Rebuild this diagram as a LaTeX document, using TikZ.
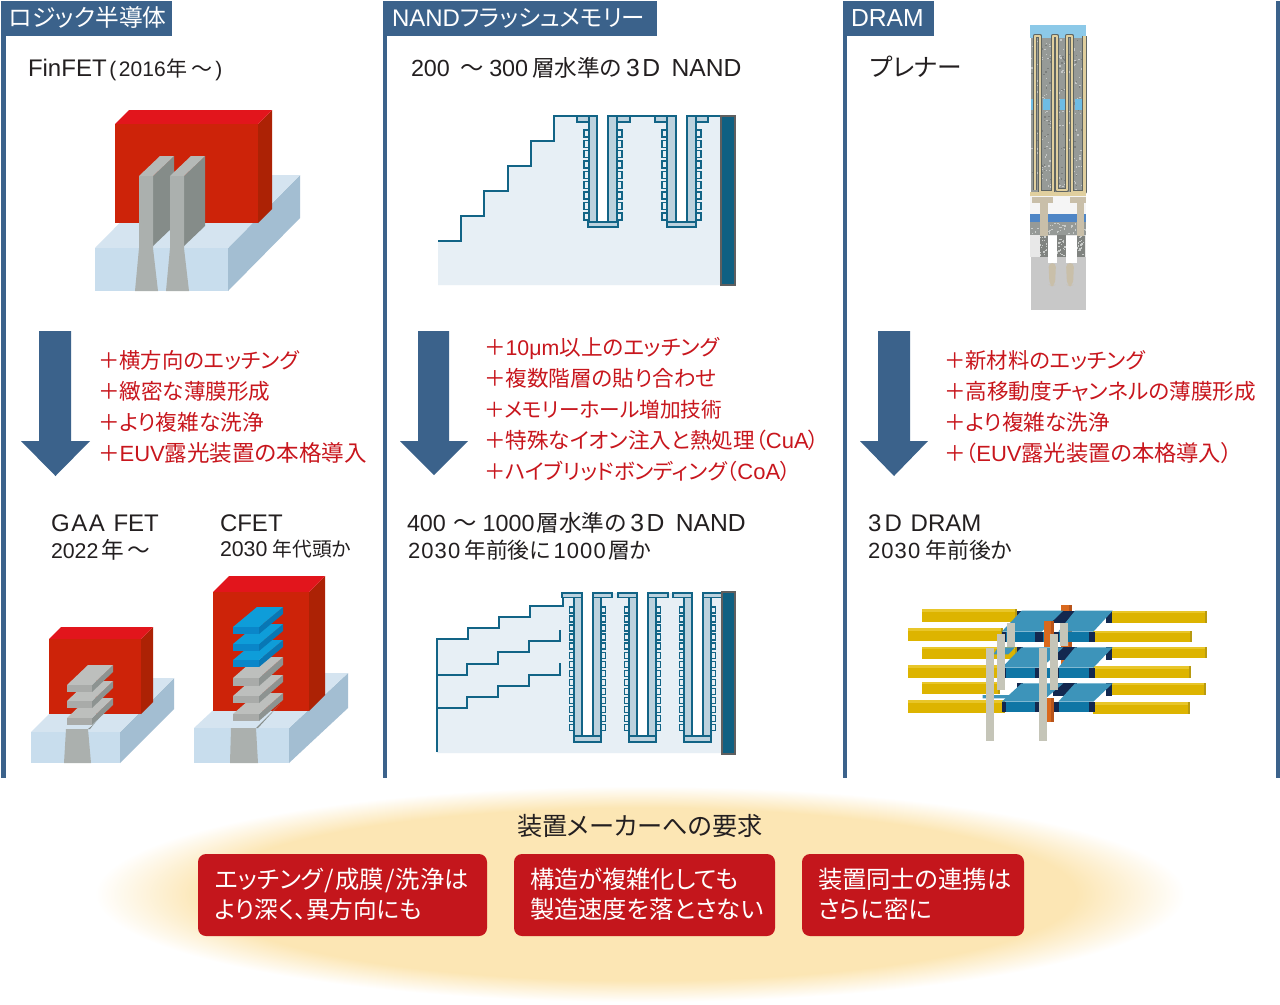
\documentclass[tikz,border=0pt]{standalone}
\usepackage{fontspec}
\setmainfont{Liberation Sans}
\newfontfamily\jpf[RawFeature=+palt]{Noto Sans CJK JP}
\newfontfamily\LSf[LetterSpace=5]{Liberation Sans}
\newcommand\J[1]{{\jpf #1}}
\newcommand\fsz[1]{\fontsize{#1}{#1}\selectfont}
\newcommand\La[1]{{\fsz{16.5}#1}}
\definecolor{panel}{HTML}{3B628B}
\definecolor{txt}{HTML}{231F20}
\definecolor{redtxt}{HTML}{C8161D}
\definecolor{boxred}{HTML}{C4161C}
\definecolor{halo}{HTML}{FCE6B4}
\definecolor{rt}{HTML}{E2151C}\definecolor{rf}{HTML}{CD2309}\definecolor{rs}{HTML}{AC2205}
\definecolor{bt}{HTML}{D5E4F0}\definecolor{bf}{HTML}{C8DDED}\definecolor{bs}{HTML}{A3BED2}
\definecolor{gt}{HTML}{B5B9B7}\definecolor{gf}{HTML}{ABB0AE}\definecolor{gs}{HTML}{858C89}
\definecolor{st}{HTML}{BDBFBD}\definecolor{sf}{HTML}{A9ABA9}\definecolor{ss}{HTML}{8D9391}
\definecolor{ct}{HTML}{0E9DD9}\definecolor{cf}{HTML}{0A86C9}\definecolor{cs}{HTML}{0877B5}
\definecolor{nl}{HTML}{126486}\definecolor{npale}{HTML}{E7EFF5}\definecolor{nliner}{HTML}{BCD2DE}
\definecolor{nwall}{HTML}{0F6082}\definecolor{nwb}{HTML}{5F5F5F}
\definecolor{yelbar}{HTML}{DDB400}\definecolor{yeltop}{HTML}{E8C62A}\definecolor{yelside}{HTML}{B89A10}
\definecolor{ptop}{HTML}{3D94BA}\definecolor{pfront}{HTML}{0F76A5}\definecolor{navy}{HTML}{13284F}
\definecolor{org}{HTML}{D9691E}\definecolor{orgd}{HTML}{B8541A}\definecolor{pil}{HTML}{C5C5B8}
\definecolor{tanb}{HTML}{E0CF9E}\definecolor{plug}{HTML}{C9BFA9}\definecolor{spk}{HTML}{969A97}
\definecolor{sky}{HTML}{8CC9E8}\definecolor{sky2}{HTML}{6EBCE3}\definecolor{bband}{HTML}{4F86C6}
\definecolor{lgray}{HTML}{C8C8C8}\definecolor{xgray}{HTML}{E8E8E8}\definecolor{cdark}{HTML}{5F6562}
\pgfdeclareradialshading{halosh}{\pgfpoint{0bp}{0bp}}{color(0bp)=(halo); color(20bp)=(halo); color(25bp)=(white); color(50bp)=(white)}
\newcommand\sheetbox[9]{%
  \fill[#9] (#1+#3,#2) -- ++(#5,-#6) -- ++(0,#4) -- ++(-#5,#6) -- cycle;
  \fill[#7] (#1,#2) -- ++(#3,0) -- ++(#5,-#6) -- ++(-#3,0) -- cycle;
  \fill[#8] (#1,#2) rectangle ++(#3,#4);}
\tikzset{
  lab/.style={anchor=base west,inner sep=0pt,outer sep=0pt,text=txt},
  redl/.style={lab,text=redtxt,font=\fsz{16.2}},
  tab/.style={anchor=base west,inner sep=0pt,outer sep=0pt,text=white,font=\fsz{16.5}},
  wht/.style={anchor=base west,inner sep=0pt,outer sep=0pt,text=white,font=\fsz{18.2}},
  rbox/.style={fill=boxred,rounded corners=6pt},
  nline/.style={draw=nl,line width=1.5pt,line join=miter},
  liner/.style={draw=nl,line width=1.3pt,fill=nliner},
  cell/.style={draw=nl,line width=1.1pt,fill=npale},
  wall/.style={fill=nwall,draw=nwb,line width=1pt},
  bigarrow/.style={fill=panel},
}
\begin{document}
\begin{tikzpicture}[x=0.75pt,y=-0.75pt]
\useasboundingbox (0,0) rectangle (1280,1004);
\fill[white] (0,0) rectangle (1280,1004);
% panels
\fill[panel] (1,1) rectangle (5.5,778);
\fill[panel] (383,1) rectangle (387,778);
\fill[panel] (843,1) rectangle (847,778);
\fill[panel] (1276,1) rectangle (1280,778);
\fill[panel] (1,1) rectangle (172,36);
\fill[panel] (383,1) rectangle (657,36);
\fill[panel] (843,1) rectangle (934,36);
\node[tab] (t1) at (9,26) {\J{\fsz{17.8}ロジック半導体}};
\node[tab] (t2) at (392,26) {{\fsz{18}NAND}\J{\fsz{17.6}フラッシュメモリー}};
\node[tab] (t3) at (851,26) {{\fsz{18.5}DRAM}};
% headings
\node[lab,font=\fsz{18}] (h1) at (28,76) {FinFET\kern2pt\fsz{15.75}(\kern2pt 2016\kern.7pt\J{年}\kern3pt\J{～}\kern2pt)};
\node[lab,font=\fsz{17.5}] (h2) at (411,76) {200\kern8pt\J{～}\kern4pt 300\kern3pt\J{\fsz{17}層水準の}\kern3pt{\fsz{18.5}3\kern2pt D\kern8.5pt NAND}};
\node[lab,font=\fsz{18.5}] (h3) at (870,76) {\J{プレナー}};
% arrows
\fill[bigarrow] (39,331) -- (71,331) -- (71,441) -- (90,441) -- (55.5,476) -- (21,441) -- (39,441) -- cycle;
\fill[bigarrow] (418,331) -- (449,331) -- (449,441) -- (468,441) -- (434,475) -- (400,441) -- (418,441) -- cycle;
\fill[bigarrow] (878,331) -- (910,331) -- (910,441) -- (928,441) -- (894,476) -- (860,441) -- (878,441) -- cycle;
% red lists
\node[redl,font=\fsz{16}] (a1) at (98,368) {\J{＋横方向のエッチング}};
\node[redl] (a2) at (98,399) {\J{＋緻密な薄膜形成}};
\node[redl] (a3) at (98,430) {\J{＋より複雑な洗浄}};
\node[redl] (a4) at (98,461) {\J{＋}\La{EUV}\J{\fsz{16.9}露光装置の本格導入}};
\node[redl] (b1) at (484,355) {\J{＋}{\fsz{16}10μm}\J{以上のエッチング}};
\node[redl] (b2) at (484,386) {\J{＋複数階層の貼り合わせ}};
\node[redl,font=\fsz{15.5}] (b3) at (484,417) {\J{＋メモリーホール増加技術}};
\node[redl] (b4) at (484,448) {\J{＋特殊なイオン注入と熱処理（}\La{CuA}\J{）}};
\node[redl,font=\fsz{16}] (b5) at (484,479) {\J{＋ハイブリッドボンディング（}\La{CoA}\J{）}};
\node[redl,font=\fsz{16}] (c1) at (944,368) {\J{＋新材料のエッチング}};
\node[redl] (c2) at (944,399) {\J{＋高移動度チャンネルの薄膜形成}};
\node[redl] (c3) at (944,430) {\J{＋より複雑な洗浄}};
\node[redl] (c4) at (944,461) {\J{＋（}\La{EUV}\J{\fsz{16.7}露光装置の本格導入）}};
% sublabels
\node[lab,font=\fsz{18}] (g1) at (51,531) {G\kern1.2pt A\kern1.2pt A\kern6.5pt FET};
\node[lab,font=\fsz{16}] (g2) at (51,558) {2022\kern2pt\J{\fsz{17}年}\kern3pt\J{\fsz{17}～}};
\node[lab,font=\fsz{18}] (g3) at (220,531) {CFET};
\node[lab,font=\fsz{16}] (g4) at (220,556) {2030\kern4pt\J{\fsz{14.8}年代頭か}};
\node[lab,font=\fsz{17.5}] (n1) at (407,531) {400\kern6pt\J{～}\kern4pt 1000\kern1.5pt\J{\fsz{17}層水準の}\kern3pt{\fsz{18.5}3\kern2pt D\kern8.5pt NAND}};
\node[lab,font=\fsz{16.4}] (n2) at (408,558) {{\LSf\fsz{16.5}2030}\kern3pt\J{年前後に}\kern2pt{\LSf\fsz{16.5}1000}\kern2pt\J{層か}};
\node[lab,font=\fsz{18}] (d1) at (868,531) {3\kern2.5pt D\kern6.5pt DRAM};
\node[lab,font=\fsz{16.4}] (d2) at (868,558) {{\LSf\fsz{16.5}2030}\kern4pt\J{年前後か}};
% FinFET
\sheetbox{95}{248}{133}{43}{72}{73}{bt}{bf}{bs}
\sheetbox{115}{124}{143}{99}{14}{14}{rt}{rf}{rs}
\foreach \dx in {0,31}{
 \begin{scope}[xshift=\dx*0.75pt]
 \fill[gs] (153,176) -- (174,156) -- (174,226) -- (153,246) -- cycle;
 \fill[gt] (139,176) -- (153,176) -- (174,156) -- (160,156) -- cycle;
 \fill[gf] (139,176) -- (153,176) -- (153,248) -- (158,291) -- (135,291) -- (139,248) -- cycle;
 \end{scope}}
% GAA FET
\sheetbox{31}{732}{89}{31}{54}{54}{bt}{bf}{bs}
\sheetbox{49}{639}{92}{75}{12}{12}{rt}{rf}{rs}
\fill[gf] (66,729) -- (88,729) -- (91,763) -- (64,763) -- cycle;
\fill[gs] (88,729) -- (93,725) -- (107,708) -- (90,729) -- cycle;
\sheetbox{67}{718}{25}{7}{21}{20}{st}{sf}{ss}
\sheetbox{67}{701}{25}{7}{21}{20}{st}{sf}{ss}
\sheetbox{67}{685}{25}{7}{21}{20}{st}{sf}{ss}
% CFET
\sheetbox{194}{728}{95}{35}{59}{55}{bt}{bf}{bs}
\sheetbox{213}{592}{96}{119}{16}{16}{rt}{rf}{rs}
\fill[gf] (231,728) -- (256,728) -- (258,763) -- (230,763) -- cycle;
\fill[gs] (256,728) -- (262,722) -- (280,704) -- (258,728) -- cycle;
\sheetbox{233}{714}{26}{7}{24}{21}{st}{sf}{ss}
\sheetbox{233}{696}{26}{7}{24}{21}{st}{sf}{ss}
\sheetbox{233}{678}{26}{8}{24}{21}{st}{sf}{ss}
\sheetbox{233}{660}{26}{7}{24}{20}{ct}{cf}{cs}
\sheetbox{233}{644}{26}{7}{24}{20}{ct}{cf}{cs}
\sheetbox{233}{627}{26}{7}{24}{20}{ct}{cf}{cs}
% NAND upper
\fill[npale] (438,241) -| (461,216) -| (484,191) -| (508,166) -| (531,141) -| (554,116) -- (721,116) -- (721,285) -- (438,285) -- cycle;
\fill[white] (597,115) rectangle (608,222);
\fill[white] (676,115) rectangle (687,222);
\draw[nline] (438,241) -| (461,216) -| (484,191) -| (508,166) -| (531,141) -| (554,116) -- (597,116);
\draw[nline] (608,116) -- (676,116);
\draw[nline] (687,116) -- (721,116);
\foreach \xa/\xb/\xc/\xd in {577/589/597/584,655/667/676/662}{
 \draw[liner] (\xa,116) rectangle (\xb,122);
 \draw[liner] (\xb,116) rectangle (\xc,222);
 \foreach \k in {0,...,8} \draw[cell] (\xd,{130+\k*10.35}) rectangle ++(5,7);
}
\foreach \xa/\xb/\xc/\xd in {608/617/630/617,687/696/708/696}{
 \draw[liner] (\xb,116) rectangle (\xc,122);
 \draw[liner] (\xa,116) rectangle (\xb,222);
 \foreach \k in {0,...,8} \draw[cell] (\xd,{130+\k*10.35}) rectangle ++(5,7);
}
\draw[liner] (588,222) rectangle (618,227);
\draw[liner] (667,222) rectangle (696,227);
\draw[wall] (721,116) rectangle (735,285);
% NAND lower
\fill[npale] (437,639) -| (468,628) -| (499,617) -| (530,606) -| (563,593) -- (722,593) -- (722,753) -- (437,753) -- cycle;
\fill[white] (582,593) rectangle (593,736);
\fill[white] (637,593) rectangle (648,736);
\fill[white] (692,593) rectangle (703,736);
\draw[nline] (437,752) -- (437,639) -| (468,628) -| (499,617) -| (530,606) -| (563,593);
\draw[nline] (437,675) -| (467,664) -| (498,652) -| (529,641) -| (560,630);
\draw[nline] (437,708) -| (467,697) -| (498,686) -| (529,675) -| (560,663);
\foreach \ta/\tb/\wl/\wr/\ra/\rb in {562/574/582/593/601/612,618/629/637/648/656/668,673/684/692/703/711/722}{
 \foreach \k in {0,...,13}{
  \draw[cell] ({\tb-4.5},{607+\k*9.05}) rectangle ++(4.5,6);
  \draw[cell] (\ra,{607+\k*9.05}) rectangle ++(4.5,6);}
 \draw[liner] (\tb,593) rectangle (\wl,736);
 \draw[liner] (\wr,593) rectangle (\ra,736);
 \draw[liner] (\tb,736) rectangle (\ra,742);
 \draw[liner] (\ta,593) rectangle (\wl,597.5);
 \draw[liner] (\wr,593) rectangle (\rb,597.5);
}
\draw[wall] (722,592) rectangle (735,754);
% Planar DRAM
\pgfmathsetseed{7}
\fill[white!92!gray] (1030,196) rectangle (1086,257);
\fill[sky] (1030,25) rectangle (1086,38);
\fill[spk] (1030.5,38) rectangle (1086,192);
\foreach \i in {1,...,260}{
 \pgfmathsetmacro\xx{1031+54*rnd}\pgfmathsetmacro\yy{38+153*rnd}
 \fill[white!45!spk] (\xx,\yy) rectangle ++(1.4,1.4);}
\foreach \i in {1,...,140}{
 \pgfmathsetmacro\xx{1031+54*rnd}\pgfmathsetmacro\yy{38+153*rnd}
 \fill[black!18!spk] (\xx,\yy) rectangle ++(1.4,1.4);}
\fill[sky2] (1030.5,99) rectangle (1034,110);
\fill[sky2] (1043,99) rectangle (1050,110);
\fill[sky2] (1060,99) rectangle (1065,110);
\fill[sky2] (1075,99) rectangle (1082,110);
\foreach \c/\w in {cdark/4.2,tanb/2.2}{
 \draw[\c,line width=\w*0.75pt,line join=round] (1035,190) -- (1035,36) -- (1040,36) -- (1040,192) -- (1053,192) -- (1053,36) -- (1057,36) -- (1057,190) -- (1067,190) -- (1067,36) -- (1072,36) -- (1072,192) -- (1084.5,192) -- (1084.5,36);
}
\fill[tanb] (1030,192) rectangle (1086,196);
\fill[lgray] (1030.5,257) rectangle (1086,310);
\fill[bband] (1030,214) rectangle (1086,222);
\fill[spk] (1030,222) rectangle (1086,235);
\fill[xgray] (1030,235) rectangle (1086,257);
\foreach \xa/\xb in {1039.5/1047.5,1056.5/1066,1076.5/1085}{
 \fill[spk!85!black] (\xa,235) rectangle (\xb,257);
 \foreach \i in {1,...,22}{
  \pgfmathsetmacro\xx{\xa+(\xb-\xa-1.3)*rnd}\pgfmathsetmacro\yy{235+20.5*rnd}
  \fill[white!50!spk] (\xx,\yy) rectangle ++(1.3,1.3);}
}
\foreach \i in {1,...,40}{
 \pgfmathsetmacro\xx{1031+54*rnd}\pgfmathsetmacro\yy{222+11.5*rnd}
 \fill[white!50!spk] (\xx,\yy) rectangle ++(1.3,1.3);}
\fill[white] (1047.5,236) rectangle (1056.5,263);
\fill[white] (1066,236) rectangle (1076.5,263);
\fill[plug] (1031.5,197) rectangle (1052.5,203);
\fill[plug] (1039.5,203) rectangle (1047.5,236);
\fill[plug] (1070,197) rectangle (1086,203);
\fill[plug] (1076.5,203) rectangle (1084,236);
\fill[plug,rounded corners=3pt] (1048.5,263) -- (1056,263) -- (1055,285) -- (1052,286) -- (1049.5,285) -- cycle;
\fill[plug,rounded corners=3pt] (1066,263) -- (1074,263) -- (1073,285) -- (1070,286) -- (1067,285) -- cycle;
% 3D DRAM
\begin{scope}[shift={(900,595)},x=0.25pt,y=-0.25pt]
\foreach \xa/\xb/\ya/\yb in {67/350/42/82,25/310/100/138,67/350/155/192,25/300/210/248,67/300/260/298,25/315/315/355,630/920/47/85,580/875/107/142,628/920/155/190,578/872/213/248,625/917/263/300,578/870/322/356}{
 \fill[yelbar] (\xa,\ya) rectangle (\xb,\yb);
 \fill[yeltop] (\xa,\ya) rectangle (\xb,\ya+8);
 \fill[yelside] (\xb-6,\ya) rectangle (\xb,\yb);
}
% rear orange
\fill[org] (483,30) rectangle (515,215);
\fill[orgd] (506,30) rectangle (515,215);
\foreach \r/\f in {47/110,157/218,265/320}{
 \fill[pfront] (305,\f) rectangle (580,\f+30);
 \fill[navy] (305,\f) rectangle (318,\f+30);
 \fill[navy] (405,\f) rectangle (430,\f+30);
 \fill[navy] (460,\f) rectangle (478,\f+30);
 \fill[navy] (567,\f) rectangle (585,\f+30);
 \fill[navy] (350,\r) rectangle (370,\r+38);
 \fill[navy] (460,\r) rectangle (532,\r+38);
 \fill[navy] (618,\r) rectangle (635,\r+38);
 \fill[ptop] (365,\r) -- (490,\r) -- (425,\f) -- (305,\f) -- cycle;
 \fill[ptop] (525,\r) -- (638,\r) -- (580,\f) -- (475,\f) -- cycle;
}
\fill[ptop] (340,300) -- (300,300) -- (248,300) -- (248,310) -- (340,310) -- cycle;
\fill[ptop] (345,157) -- (295,157) -- (280,178) -- (325,178) -- cycle;
% front orange
\fill[org] (432,78) rectangle (462,155);
\fill[orgd] (452,78) rectangle (462,155);
\fill[org] (440,310) rectangle (462,382);
\fill[orgd] (453,310) rectangle (462,382);
\foreach \xa/\xb/\ya/\yb in {320/345/85/155,480/503/85/152,292/315/118/285,450/475/118/285,257/282/160/438,417/440/158/438}{
 \fill[pil] (\xa,\ya) rectangle (\xb,\yb);
}
\end{scope}
% bottom
\shade[shading=halosh] (640,894) ellipse [x radius=545,y radius=108];
\fill[rbox] (198,854) rectangle (487,936);
\fill[rbox] (514,854) rectangle (775,936);
\fill[rbox] (802,854) rectangle (1024,936);
\node[lab,font=\fsz{18.9}] (req) at (517,835) {\J{装置メーカーへの要求}};
\node[wht] (r1) at (215,888) {\J{エッチング\kern1pt/\kern1pt成膜\kern1pt/\kern1pt洗浄は}};
\node[wht,font=\fsz{17.7}] (r2) at (215,918) {\J{より深く、異方向にも}};
\node[wht] (r3) at (530,888) {\J{構造が複雑化しても}};
\node[wht] (r4) at (530,918) {\J{製造速度を落とさない}};
\node[wht] (r5) at (818,888) {\J{装置同士の連携は}};
\node[wht] (r6) at (818,918) {\J{さらに密に}};
\end{tikzpicture}
\end{document}
